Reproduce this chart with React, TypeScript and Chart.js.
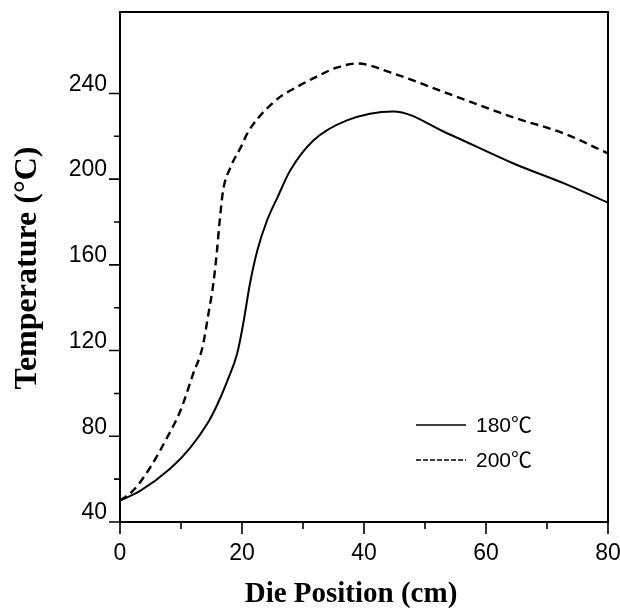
import React, { useEffect, useRef } from 'react';
import { Chart, registerables } from 'chart.js';

Chart.register(...registerables);

// Die position (cm) and temperature (°C) for each run
const positions180 = [0, 3.3, 8.2, 11.5, 14.3, 15.9, 17.6, 19.2, 20.2, 21.3, 22.5, 24.1, 25.8, 27.9, 31.7, 37.2, 44.8, 53.7, 64.5, 72.8, 80];
const temps180 = [50, 54.5, 64.8, 74.6, 85.8, 94.5, 105.9, 118.5, 132.5, 151.2, 166.6, 180.7, 191.4, 204, 218, 227.4, 231.6, 221.3, 207.3, 198, 189];

const positions200 = [0, 2.1, 4.9, 7.7, 9.9, 12.0, 13.5, 14.5, 15.3, 15.9, 16.3, 16.9, 18.1, 20.0, 20.8, 22.5, 24.1, 26.3, 29.0, 32.0, 35.5, 38.9, 44.3, 53.7, 64.5, 72.8, 80];
const temps200 = [50, 54.5, 65.2, 79.3, 91.9, 109.2, 121.3, 137.2, 151.2, 166.6, 179.3, 194.7, 205.4, 216, 221, 228, 233, 238.5, 243, 247.5, 252, 254, 249.8, 240, 228.8, 221.3, 212];

const seriesLabels = ['180℃', '200℃'];
const xMajorTicks = [0, 20, 40, 60, 80];
const xMinorTicks = [10, 30, 50, 70];
const yMajorTicks = [40, 80, 120, 160, 200, 240];
const yMinorTicks = [60, 100, 140, 180, 220];
const xTitle = 'Die Position (cm)';
const yTitle = 'Temperature (°C)';

const SANS = "'Liberation Sans', Arial, 'Noto Sans CJK SC', sans-serif";
const SERIF = "'Liberation Serif', 'Times New Roman', serif";

const decorPlugin = {
  id: 'decor',
  afterDraw(chart: any) {
    const { ctx, chartArea } = chart;
    const { left, right, top, bottom } = chartArea;
    const xs = chart.scales.x;
    const ys = chart.scales.y;
    ctx.save();
    ctx.strokeStyle = '#000';
    ctx.lineWidth = 2;
    ctx.setLineDash([]);
    ctx.strokeRect(left, top, right - left, bottom - top);

    ctx.lineWidth = 1.6;
    ctx.beginPath();
    xMajorTicks.forEach((v) => {
      const p = xs.getPixelForValue(v);
      ctx.moveTo(p, bottom);
      ctx.lineTo(p, bottom + 12);
    });
    xMinorTicks.forEach((v) => {
      const p = xs.getPixelForValue(v);
      ctx.moveTo(p, bottom);
      ctx.lineTo(p, bottom + 7);
    });
    yMajorTicks.forEach((v) => {
      const p = ys.getPixelForValue(v);
      ctx.moveTo(left, p);
      ctx.lineTo(left - 11, p);
    });
    yMinorTicks.forEach((v) => {
      const p = ys.getPixelForValue(v);
      ctx.moveTo(left, p);
      ctx.lineTo(left - 6, p);
    });
    ctx.stroke();

    // legend
    const lx = right - 192;
    const ly = bottom - 97;
    chart.data.datasets.forEach((ds: any, i: number) => {
      const y = ly + i * 35;
      ctx.beginPath();
      ctx.lineWidth = 1.6;
      ctx.setLineDash(ds.borderDash && ds.borderDash.length ? [5, 2] : []);
      ctx.moveTo(lx, y);
      ctx.lineTo(lx + 50, y);
      ctx.stroke();
      ctx.setLineDash([]);
      ctx.fillStyle = '#000';
      ctx.font = `21px ${SANS}`;
      ctx.textAlign = 'left';
      ctx.textBaseline = 'middle';
      ctx.fillText(ds.label, lx + 60, y + 1);
    });

    // axis titles
    ctx.fillStyle = '#000';
    ctx.font = `bold 29px ${SERIF}`;
    ctx.textAlign = 'center';
    ctx.textBaseline = 'alphabetic';
    ctx.fillText(xTitle, 351, 602);

    ctx.save();
    ctx.translate(36, 268);
    ctx.rotate(-Math.PI / 2);
    ctx.font = `bold 32px ${SERIF}`;
    ctx.fillText(yTitle, 0, 0);
    ctx.restore();

    ctx.restore();
  },
};

export default function App() {
  const canvasRef = useRef<HTMLCanvasElement | null>(null);

  useEffect(() => {
    document.body.style.margin = '0';
    const canvas = canvasRef.current;
    if (!canvas) return;
    const chart = new Chart(canvas, {
      type: 'line',
      data: {
        datasets: [
          {
            label: seriesLabels[0],
            data: positions180.map((x, i) => ({ x, y: temps180[i] })),
            borderColor: '#000',
            borderWidth: 2,
            pointRadius: 0,
            fill: false,
            cubicInterpolationMode: 'monotone',
          },
          {
            label: seriesLabels[1],
            data: positions200.map((x, i) => ({ x, y: temps200[i] })),
            borderColor: '#000',
            borderWidth: 2.4,
            borderDash: [8, 5],
            pointRadius: 0,
            fill: false,
            cubicInterpolationMode: 'monotone',
          },
        ],
      },
      options: {
        responsive: false,
        animation: false,
        devicePixelRatio: 1,
        layout: { padding: { top: 12, right: 12, left: 0, bottom: 0 } },
        plugins: {
          legend: { display: false },
          tooltip: { enabled: false },
          title: { display: false },
        },
        scales: {
          x: {
            type: 'linear',
            min: 0,
            max: 80,
            grid: { display: false },
            border: { display: false },
            afterBuildTicks: (s: any) => {
              s.ticks = xMajorTicks.map((v) => ({ value: v }));
            },
            afterFit: (s: any) => {
              s.height = 86;
              s.paddingLeft = 0;
              s.paddingRight = 0;
            },
            ticks: {
              color: '#000',
              font: { family: SANS, size: 23 },
              padding: 10,
              maxRotation: 0,
              autoSkip: false,
            },
          },
          y: {
            type: 'linear',
            min: 40,
            max: 278,
            grid: { display: false },
            border: { display: false },
            afterBuildTicks: (s: any) => {
              s.ticks = yMajorTicks.map((v) => ({ value: v }));
            },
            afterFit: (s: any) => {
              s.width = 120;
              s.paddingTop = 0;
              s.paddingBottom = 0;
            },
            ticks: {
              color: '#000',
              font: { family: SANS, size: 23 },
              padding: 5,
              labelOffset: -9,
              autoSkip: false,
            },
          },
        },
      } as any,
      plugins: [decorPlugin],
    });
    return () => chart.destroy();
  }, []);

  return (
    <div style={{ width: 620, height: 608 }}>
      <canvas ref={canvasRef} width={620} height={608} style={{ display: 'block' }} />
    </div>
  );
}
